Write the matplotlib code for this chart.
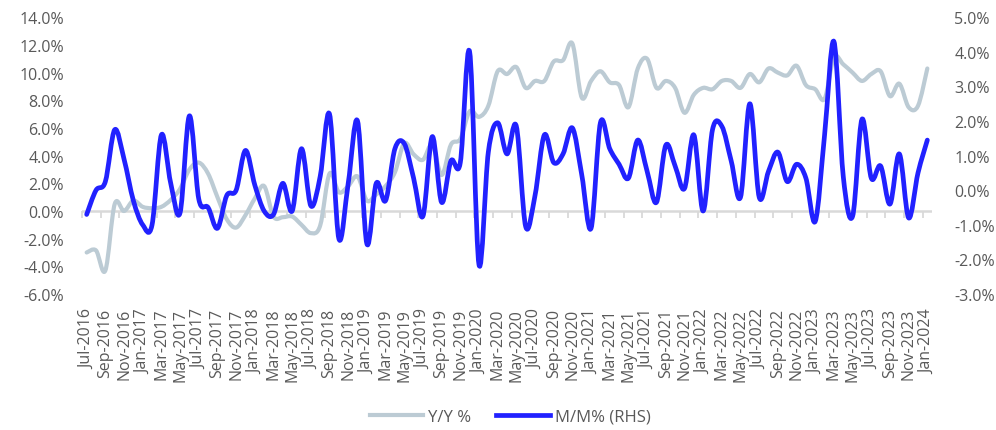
import matplotlib
matplotlib.use('Agg')
import matplotlib.pyplot as plt
import numpy as np
import pandas as pd
from matplotlib.path import Path
from matplotlib.patches import PathPatch
from matplotlib.lines import Line2D
from matplotlib.ticker import FuncFormatter

plt.rcParams['font.family'] = ['Open Sans', 'DejaVu Sans']

# ---- data ----
months = list(pd.date_range('2016-07-01', '2024-01-01', freq='MS').strftime('%b-%Y'))

yoy = [-3.0, -2.85, -4.3, 0.5, 0.0, 0.75, 0.3, 0.2, 0.3, 0.8,
       1.6, 3.0, 3.5, 2.7, 1.0, -0.6, -1.2, -0.3, 0.9, 1.8,
       -0.4, -0.45, -0.4, -1.0, -1.6, -1.05, 2.7, 1.35, 1.8, 2.5,
       0.75, 1.2, 1.8, 2.8, 4.9, 4.1, 3.7, 4.8, 2.6, 4.8,
       5.2, 7.2, 6.8, 7.6, 10.1, 9.9, 10.4, 8.9, 9.4, 9.4,
       10.8, 10.9, 12.1, 8.2, 9.4, 10.1, 9.3, 9.1, 7.5, 10.3,
       11.0, 8.9, 9.4, 8.9, 7.1, 8.4, 8.9, 8.8, 9.4, 9.4,
       8.9, 9.9, 9.3, 10.3, 10.0, 9.8, 10.5, 9.1, 8.8, 8.1,
       11.1, 10.6, 10.0, 9.4, 9.9, 10.1, 8.3, 9.2, 7.5, 7.6,
       10.3]

mom = [-0.7, 0.0, 0.25, 1.75, 0.9, -0.3, -1.0, -1.0, 1.6, 0.2,
       -0.65, 2.15, -0.25, -0.5, -1.1, -0.15, 0.0, 1.15, 0.15, -0.6,
       -0.7, 0.2, -0.6, 1.2, -0.45, 0.4, 2.2, -1.4, 0.2, 2.0,
       -1.55, 0.2, -0.3, 1.2, 1.35, 0.35, -0.75, 1.55, -0.35, 0.85,
       0.8, 4.0, -2.15, 1.1, 1.95, 1.05, 1.85, -1.05, -0.15, 1.6,
       0.8, 1.05, 1.8, 0.45, -1.1, 1.95, 1.2, 0.75, 0.35, 1.45,
       0.55, -0.35, 1.3, 0.7, 0.05, 1.6, -0.6, 1.75, 1.85, 0.85,
       -0.2, 2.5, -0.2, 0.55, 1.1, 0.25, 0.75, 0.35, -0.9, 1.6,
       4.3, 0.4, -0.75, 2.05, 0.35, 0.7, -0.4, 1.05, -0.8, 0.5,
       1.45]

left_ticks = [-6, -4, -2, 0, 2, 4, 6, 8, 10, 12, 14]
right_ticks = [-3, -2, -1, 0, 1, 2, 3, 4, 5]
series_names = ['Y/Y %', 'M/M% (RHS)']

GRAY = '#bccbd4'
BLUE = '#2121ff'
TXT = '#595959'
AXC = '#d9d9d9'


def smooth_path(xs, ys):
    P = np.column_stack([xs, ys]).astype(float)
    n = len(P)
    verts = [P[0]]
    codes = [Path.MOVETO]
    for i in range(n - 1):
        p0 = P[i - 1] if i > 0 else P[i]
        p1 = P[i]
        p2 = P[i + 1]
        p3 = P[i + 2] if i + 2 < n else P[i + 1]
        verts += [p1 + (p2 - p0) / 6.0, p2 - (p3 - p1) / 6.0, p2]
        codes += [Path.CURVE4] * 3
    return Path(verts, codes)


fig = plt.figure(figsize=(9.96, 4.31), dpi=100)
ax = fig.add_axes([82 / 996, 1 - 295 / 431, 850 / 996, (295 - 18.3) / 431])
ax2 = ax.twinx()

x = np.arange(len(months))
ax.set_xlim(-0.5, len(months) - 0.5)
ax.set_ylim(left_ticks[0], left_ticks[-1])
ax2.set_ylim(right_ticks[0], right_ticks[-1])

# zero line with tick marks
ax.axhline(0, color=AXC, lw=1.8, zorder=1)
sec = ax.secondary_xaxis(-left_ticks[0] / (left_ticks[-1] - left_ticks[0]))
sec.set_xticks(np.arange(-0.5, len(months) - 1, 2))
sec.tick_params(axis='x', length=5, width=1.3, color=AXC, labelbottom=False)
for s in sec.spines.values():
    s.set_visible(False)

ax.add_patch(PathPatch(smooth_path(x, yoy), fill=False, edgecolor=GRAY,
                       lw=3.0, capstyle='round', joinstyle='round', zorder=3))
ax2.add_patch(PathPatch(smooth_path(x, mom), fill=False, edgecolor=BLUE,
                        lw=3.4, capstyle='round', joinstyle='round', zorder=3))

for a in (ax, ax2):
    for s in a.spines.values():
        s.set_visible(False)

ax.set_xticks(x[::2])
ax.set_xticklabels(months[::2], rotation=90, color=TXT, fontsize=11.5)
ax.tick_params(axis='x', length=0, pad=10)
ax.set_yticks(left_ticks)
ax.yaxis.set_major_formatter(FuncFormatter(lambda v, p: f'{v:.1f}%'))
ax.tick_params(axis='y', length=0, labelcolor=TXT, labelsize=11.5, pad=13)
ax2.set_yticks(right_ticks)
ax2.yaxis.set_major_formatter(FuncFormatter(lambda v, p: f'{v:.1f}%'))
ax2.tick_params(axis='y', length=0, labelcolor=TXT, labelsize=11.5, pad=16)

handles = [Line2D([], [], color=GRAY, lw=3.0), Line2D([], [], color=BLUE, lw=3.4)]
leg = fig.legend(handles, series_names, loc='center',
                 bbox_to_anchor=(510 / 996, 1 - 418 / 431), ncol=2, frameon=False,
                 handlelength=3.2, columnspacing=1.5, handletextpad=0.3,
                 fontsize=12)
for t in leg.get_texts():
    t.set_color(TXT)

fig.savefig('out.png', dpi=100)
